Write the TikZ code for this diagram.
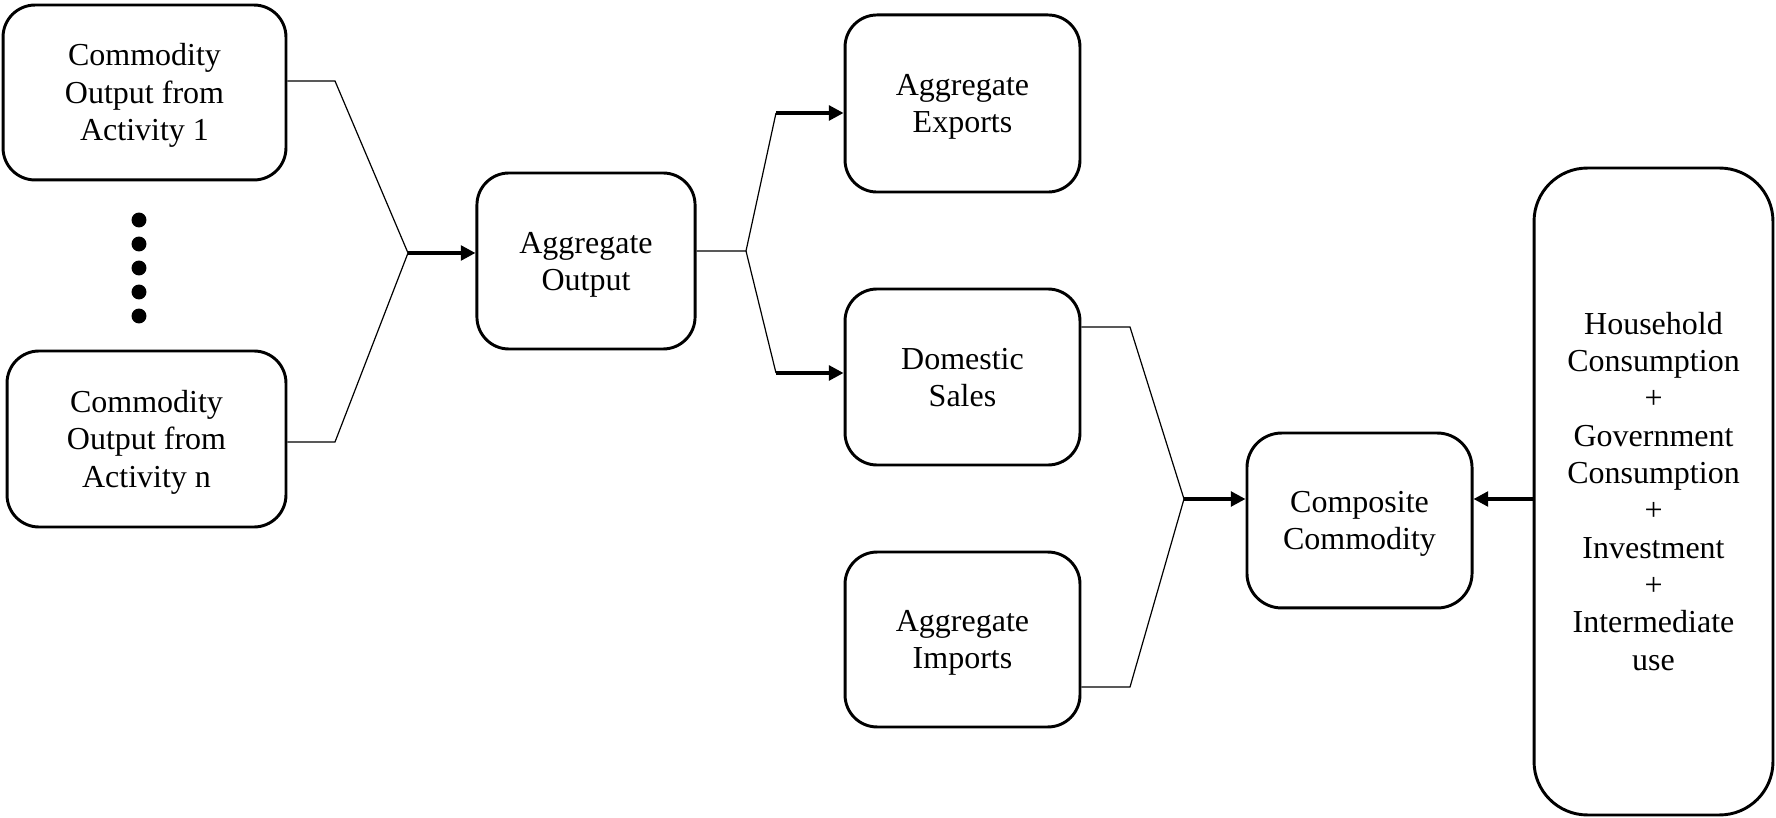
\documentclass[tikz,border=0pt]{standalone}
\usepackage{fontspec}
\setmainfont{Liberation Serif}
\usetikzlibrary{arrows.meta}
% uniform line box: full ascent on the first line, full descent on the last
\newcommand{\hstrut}{\rule{0pt}{10.7pt}}
\begin{document}
\begin{tikzpicture}[x=0.375pt,y=-0.375pt,
  box/.style={draw,line width=1.1pt,align=center,inner sep=0pt,
    font=\fontsize{12}{14}\selectfont,
    execute at end node={\rule[-2.6pt]{0pt}{2.6pt}}},
  link/.style={line width=0.45pt},
  arr/.style={line width=1.3pt,-{Triangle[length=5.5pt,width=5.5pt]}},
  dot/.style={fill=black}]
\useasboundingbox (0,0) rectangle (1776,818);

% boxes
\node[box,rounded corners=12pt,minimum width=106.1pt,minimum height=65.6pt] (a1) at (144.5,92.5)
  {\hstrut Commodity\\Output from\\Activity 1};
\node[box,rounded corners=12pt,minimum width=104.6pt,minimum height=66pt] (an) at (146.5,439)
  {\hstrut Commodity\\Output from\\Activity n};
\node[box,rounded corners=12pt,minimum width=81.8pt,minimum height=66pt] (ao) at (586,261)
  {\hstrut Aggregate\\Output};
\node[box,rounded corners=12pt,minimum width=88.1pt,minimum height=66.4pt] (ex) at (962.5,103.5)
  {\hstrut Aggregate\\Exports};
\node[box,rounded corners=12pt,minimum width=88.1pt,minimum height=66pt] (ds) at (962.5,377)
  {\hstrut Domestic\\Sales};
\node[box,rounded corners=12pt,minimum width=88.1pt,minimum height=65.6pt] (im) at (962.5,639.5)
  {\hstrut Aggregate\\Imports};
\node[box,rounded corners=13pt,minimum width=84.4pt,minimum height=65.6pt] (cc) at (1359.5,520.5)
  {\hstrut Composite\\Commodity};
\node[box,rounded corners=20pt,minimum width=89.6pt,minimum height=242.6pt] (dm) at (1653.5,491.5)
  {\hstrut Household\\Consumption\\+\\Government\\Consumption\\+\\Investment\\+\\Intermediate\\use};

% vertical ellipsis between the activity boxes
\foreach \yy in {220,244,268,292,316}
  \fill[dot] (139,\yy) circle (2.8pt);

% activities -> aggregate output
\coordinate (k1) at (335,81);
\coordinate (kn) at (335,442);
\coordinate (j1) at (408,253);
\draw[link] (k1 -| a1.east) -- (k1) -- (j1);
\draw[link] (kn -| an.east) -- (kn) -- (j1);
\draw[arr] (j1) -- (j1 -| ao.west);

% aggregate output -> exports / domestic sales
\coordinate (f0) at (746,251);
\coordinate (fe) at (776,113);
\coordinate (fd) at (776,373);
\draw[link] (f0 -| ao.east) -- (f0) -- (fe);
\draw[link] (f0) -- (fd);
\draw[arr] (fe) -- (fe -| ex.west);
\draw[arr] (fd) -- (fd -| ds.west);

% domestic sales + imports -> composite commodity
\coordinate (kd) at (1130,327);
\coordinate (ki) at (1130,687);
\coordinate (jc) at (1184,499);
\draw[link] (kd -| ds.east) -- (kd) -- (jc);
\draw[link] (ki -| im.east) -- (ki) -- (jc);
\draw[arr] (jc) -- (jc -| cc.west);

% demand -> composite commodity
\draw[arr] (jc -| dm.west) -- (jc -| cc.east);
\end{tikzpicture}
\end{document}
